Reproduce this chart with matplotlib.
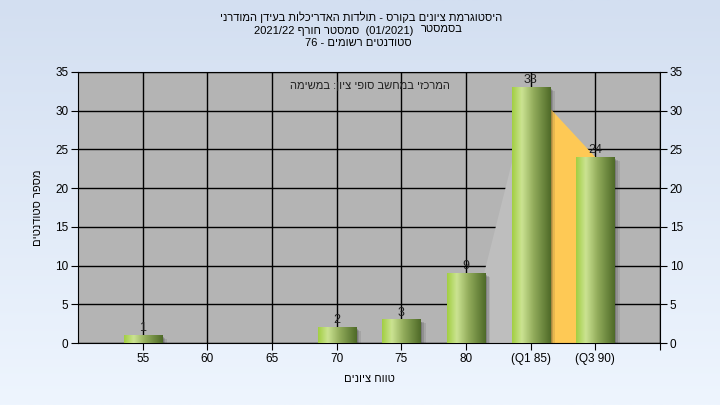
import numpy as np
import matplotlib
matplotlib.use('Agg')
import matplotlib.pyplot as plt
from matplotlib.colors import LinearSegmentedColormap
from matplotlib.patches import Rectangle, Polygon

plt.rcParams['font.family'] = ['Liberation Sans', 'DejaVu Sans']


def heb(s):
    # matplotlib has no bidi: reverse hebrew, keep digit / latin runs readable
    out = s[::-1]
    mirror = {'(': ')', ')': '('}
    out = ''.join(mirror.get(c, c) for c in out)
    res, run = '', ''
    for c in out:
        if c.isascii() and (c.isalnum() or c in '/.'):
            run += c
        else:
            res += run[::-1] + c
            run = ''
    return res + run[::-1]


# data
categories = ['55', '60', '65', '70', '75', '80', '(Q1 85)', '(Q3 90)']
counts = [1, 0, 0, 2, 3, 9, 33, 24]
yticks = [0, 5, 10, 15, 20, 25, 30, 35]

title1 = 'היסטוגרמת ציונים בקורס - תולדות האדריכלות בעידן המודרני'
title2a = '(01/2021)  סמסטר חורף 2021/22'
title2b = 'בסמסטר'
title3 = 'סטודנטים רשומים - 76'
# the note in the original comes out with its words in left-to-right order
note_words = ['במשימה', ':ציון', 'סופי', 'במחשב', 'המרכזי']
xlabel = 'טווח ציונים'
ylabel = 'מספר סטודנטים'

fig = plt.figure(figsize=(7.2, 4.05), dpi=100)

# background gradient
bg = fig.add_axes([0, 0, 1, 1], zorder=-10)
grad = np.linspace(0, 1, 256).reshape(-1, 1)
bg.imshow(grad, aspect='auto', extent=[0, 1, 0, 1],
          cmap=LinearSegmentedColormap.from_list('bg', ['#d3dff1', '#eef5fe']))
bg.axis('off')

ax = fig.add_axes([78 / 720, 1 - 343 / 405, 582 / 720, 271 / 405])
ax.set_facecolor('#b4b4b4')

x = np.arange(1, len(categories) + 1)
w = 0.59

# area shapes behind the bars
ax.add_patch(Polygon([(x[5] + 0.28, 0), (x[5] + 0.28, counts[5]), (x[6], counts[6]), (x[6], 0)],
                     closed=True, facecolor='#bebebe', edgecolor='none', zorder=1.5))
ax.add_patch(Polygon([(x[6], 0), (x[6], counts[6]), (x[7], counts[7]), (x[7], 0)],
                     closed=True, facecolor='#fec955', edgecolor='none', zorder=1.5))

bar_cmap = LinearSegmentedColormap.from_list(
    'bar', [(0, '#a2cf42'), (0.25, '#cbe392'), (0.55, '#93ad5c'), (1, '#4e6a28')])
hgrad = np.linspace(0, 1, 128).reshape(1, -1)

for xi, v in zip(x, counts):
    if v == 0:
        continue
    # soft shadow
    for k, a in enumerate([0.2, 0.15, 0.1]):
        d = 0.03 + 0.025 * k
        ax.add_patch(Rectangle((xi - w / 2 + d, -0.35 - 0.1 * k), w, v + 0.1,
                               facecolor='#202020', alpha=a, edgecolor='none', zorder=2.5))
    ax.imshow(hgrad, aspect='auto', cmap=bar_cmap, extent=[xi - w / 2, xi + w / 2, 0, v],
              zorder=3, interpolation='bilinear')
    ax.text(xi, v + 0.15, str(v), ha='center', va='bottom', fontsize=9, color='#202020', zorder=4)

ax.set_xlim(0, 9)
ax.set_ylim(0, 35)
ax.set_xticks(list(x) + [9])
ax.set_xticklabels(categories + [''], fontsize=8.5)
ax.set_yticks(yticks)
ax.set_yticklabels([str(t) for t in yticks], fontsize=8.5)
ax.tick_params(axis='both', direction='out', length=5, color='black', pad=2)
ax.tick_params(axis='y', right=True, labelright=True)
ax.grid(True, color='black', linewidth=1, zorder=1)
ax.set_axisbelow(True)
for s in ax.spines.values():
    s.set_color('black')

note_vis = ' '.join(wd[::-1] if not wd.startswith(':') else ':' + wd[1:][::-1] for wd in note_words)
ax.text(0.502, 0.948, note_vis, transform=ax.transAxes, ha='center', va='center',
        fontsize=8, color='#202020', zorder=4)

ax.set_xlabel(heb(xlabel), fontsize=8, labelpad=7)
ax.set_ylabel(heb(ylabel), fontsize=8, labelpad=9)

fig.text(361 / 720, 1 - 17.5 / 405, heb(title1), ha='center', va='center', fontsize=8)
fig.text(413 / 720, 1 - 31.5 / 405, heb(title2a), ha='right', va='center', fontsize=8)
fig.text(421 / 720, 1 - 28.5 / 405, heb(title2b), ha='left', va='center', fontsize=8)
fig.text(358 / 720, 1 - 42.5 / 405, heb(title3), ha='center', va='center', fontsize=8)

fig.savefig('out.png', dpi=100)
